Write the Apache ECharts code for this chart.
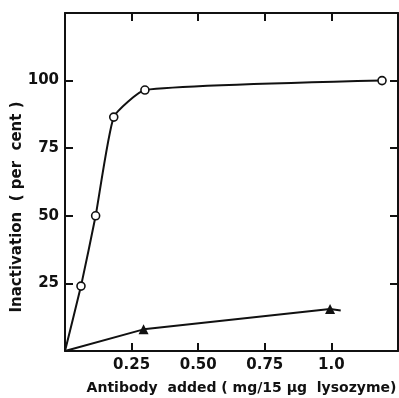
<!DOCTYPE html>
<html>
<head>
<meta charset="utf-8">
<script src="https://cdn.jsdelivr.net/npm/echarts@6/dist/echarts.min.js"></script>
<style>
  html, body { margin: 0; padding: 0; background: #fff; }
  #chart { width: 399px; height: 398px; }
</style>
</head>
<body>
<div id="chart"></div>
<script>
// antibody added (mg/15 ug lysozyme) vs inactivation (%)
const circleX = [0, 0.06, 0.115, 0.183, 0.30, 1.19];
const circleY = [0, 24, 50, 86.5, 96.5, 100];
const triangleX = [0, 0.295, 0.995, 1.035];
const triangleY = [0, 8, 15.5, 15];
const triangleMarked = [false, true, true, false];
const xTickLabels = { '0.25': '0.25', '0.5': '0.50', '0.75': '0.75', '1': '1.0' };
const yTickLabels = [25, 50, 75, 100];

const font = 'DejaVu Sans';
const black = '#111';

const chart = echarts.init(document.getElementById('chart'));

const frameAxis = {
  axisLine: { show: true, onZero: false, lineStyle: { color: black, width: 2 } },
  axisTick: { show: true, inside: true, length: 8, lineStyle: { color: black, width: 2 } },
  splitLine: { show: false }
};

chart.setOption({
  animation: false,
  grid: { left: 65, right: 1, top: 13, bottom: 47, containLabel: false, outerBoundsMode: 'none' },
  xAxis: [
    Object.assign({
      type: 'value', min: 0, max: 1.25, interval: 0.25, position: 'bottom',
      name: 'Antibody  added ( mg/15 µg  lysozyme)',
      nameLocation: 'middle', nameGap: 30, nameMoveOverlap: false,
      nameTextStyle: { fontFamily: font, fontWeight: 'bold', fontSize: 14, color: black, padding: [0, 0, 0, 20] },
      axisLabel: {
        margin: 7, fontFamily: font, fontWeight: 'bold', fontSize: 15, color: black,
        formatter: v => xTickLabels[String(v)] || ''
      }
    }, frameAxis),
    Object.assign({
      type: 'value', min: 0, max: 1.25, interval: 0.25, position: 'top',
      axisLabel: { show: false }
    }, frameAxis)
  ],
  yAxis: [
    Object.assign({
      type: 'value', min: 0, max: 125, interval: 25, position: 'left',
      name: 'Inactivation  ( per  cent )',
      nameLocation: 'middle', nameGap: 40, nameMoveOverlap: false,
      nameTextStyle: { fontFamily: font, fontWeight: 'bold', fontSize: 15, color: black, padding: [0, 50, 0, 0] },
      axisLabel: {
        margin: 6, fontFamily: font, fontWeight: 'bold', fontSize: 15, color: black,
        formatter: v => yTickLabels.includes(v) ? String(v) : ''
      }
    }, frameAxis),
    Object.assign({
      type: 'value', min: 0, max: 125, interval: 25, position: 'right',
      axisLabel: { show: false }
    }, frameAxis)
  ],
  series: [
    {
      type: 'line',
      smooth: 0.15,
      data: circleX.map((x, i) => ({
        value: [x, circleY[i]],
        symbol: i === 0 ? 'none' : 'circle'
      })),
      symbolSize: 8,
      lineStyle: { color: black, width: 2 },
      itemStyle: { color: '#fff', borderColor: black, borderWidth: 1.6 },
      z: 3
    },
    {
      type: 'line',
      data: triangleX.map((x, i) => ({
        value: [x, triangleY[i]],
        symbol: triangleMarked[i] ? 'triangle' : 'none'
      })),
      symbolSize: 10,
      lineStyle: { color: black, width: 2 },
      itemStyle: { color: black },
      z: 3
    }
  ]
});
</script>
</body>
</html>
